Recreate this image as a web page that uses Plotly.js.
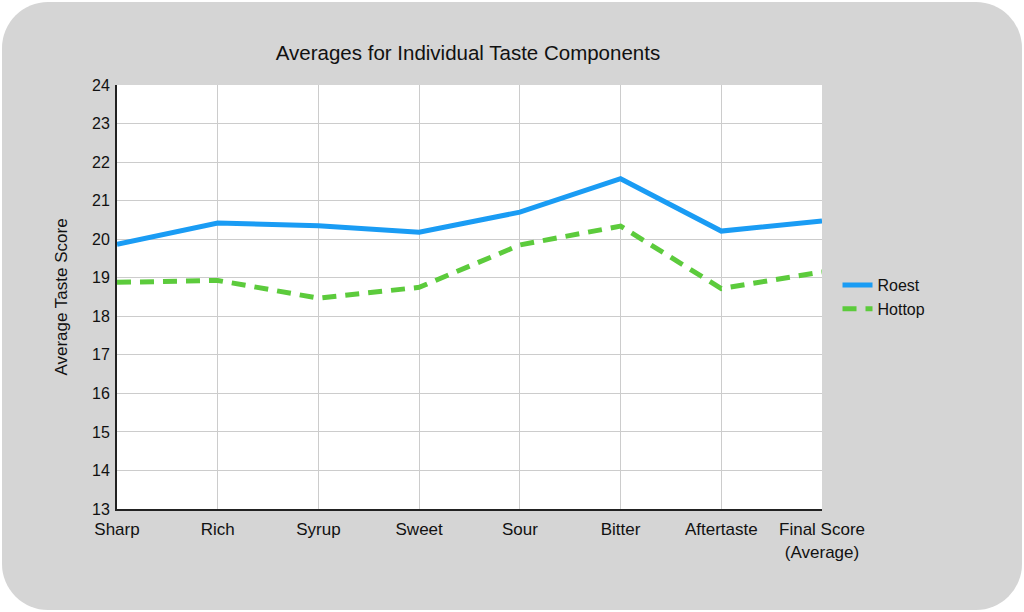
<!DOCTYPE html>
<html>
<head>
<meta charset="utf-8">
<script src="https://cdn.plot.ly/plotly-3.0.1.min.js"></script>
<style>
  html, body { margin: 0; padding: 0; background: #ffffff; }
  #frame {
    position: absolute; left: 2px; top: 2px; width: 1020px; height: 608px;
    background: #d5d5d5; border-radius: 46px;
  }
  #chart { position: absolute; left: 0; top: 0; width: 1024px; height: 612px; }
</style>
</head>
<body>
<div id="frame"></div>
<div id="chart"></div>
<script>
  // taste components on the x axis
  const components = ['Sharp', 'Rich', 'Syrup', 'Sweet', 'Sour', 'Bitter', 'Aftertaste', 'Final Score<br>(Average)'];

  // average scores per roaster
  const roest = [19.87, 20.42, 20.35, 20.18, 20.70, 21.57, 20.21, 20.47];
  const hottop = [18.88, 18.93, 18.47, 18.75, 19.85, 20.34, 18.72, 19.15];

  const yTicks = [13, 14, 15, 16, 17, 18, 19, 20, 21, 22, 23, 24];

  const fontFamily = '"Liberation Sans", Arial, Helvetica, sans-serif';

  const traces = [
    {
      type: 'scatter',
      mode: 'lines',
      x: components,
      y: roest,
      name: 'Roest',
      line: { color: '#1a9cf4', width: 5 },
      cliponaxis: false
    },
    {
      type: 'scatter',
      mode: 'lines',
      x: components,
      y: hottop,
      name: 'Hottop',
      line: { color: '#5ccb3c', width: 5, dash: '14px,9px' },
      cliponaxis: false
    }
  ];

  const layout = {
    width: 1024,
    height: 612,
    margin: { l: 117, r: 202, t: 85, b: 103 },
    paper_bgcolor: 'rgba(0,0,0,0)',
    plot_bgcolor: '#ffffff',
    font: { family: fontFamily, size: 16, color: '#111111' },
    title: {
      text: 'Averages for Individual Taste Components',
      x: 0.457, xanchor: 'center',
      y: 0.913, yanchor: 'middle',
      font: { size: 20.5, color: '#111111' }
    },
    xaxis: {
      type: 'category',
      range: [0, 7],
      showgrid: true,
      gridcolor: '#cccccc',
      gridwidth: 1,
      showline: true,
      linecolor: '#222222',
      linewidth: 2,
      ticks: '',
      tickfont: { size: 17 },
      ticklabelstandoff: 4,
      zeroline: false,
      fixedrange: true
    },
    yaxis: {
      range: [13, 24],
      tickvals: yTicks,
      showgrid: true,
      gridcolor: '#cccccc',
      gridwidth: 1,
      showline: true,
      linecolor: '#222222',
      linewidth: 2,
      ticks: '',
      tickfont: { size: 16 },
      ticklabelstandoff: 2,
      zeroline: false,
      title: { text: 'Average Taste Score', font: { size: 17 }, standoff: 20 },
      fixedrange: true
    },
    legend: {
      x: 1.022, xanchor: 'left',
      y: 0.5, yanchor: 'middle',
      bgcolor: 'rgba(0,0,0,0)',
      font: { size: 16 },
      itemwidth: 30,
      tracegroupgap: 0
    },
    showlegend: true
  };

  Plotly.newPlot('chart', traces, layout, { displayModeBar: false, staticPlot: true });
</script>
</body>
</html>
